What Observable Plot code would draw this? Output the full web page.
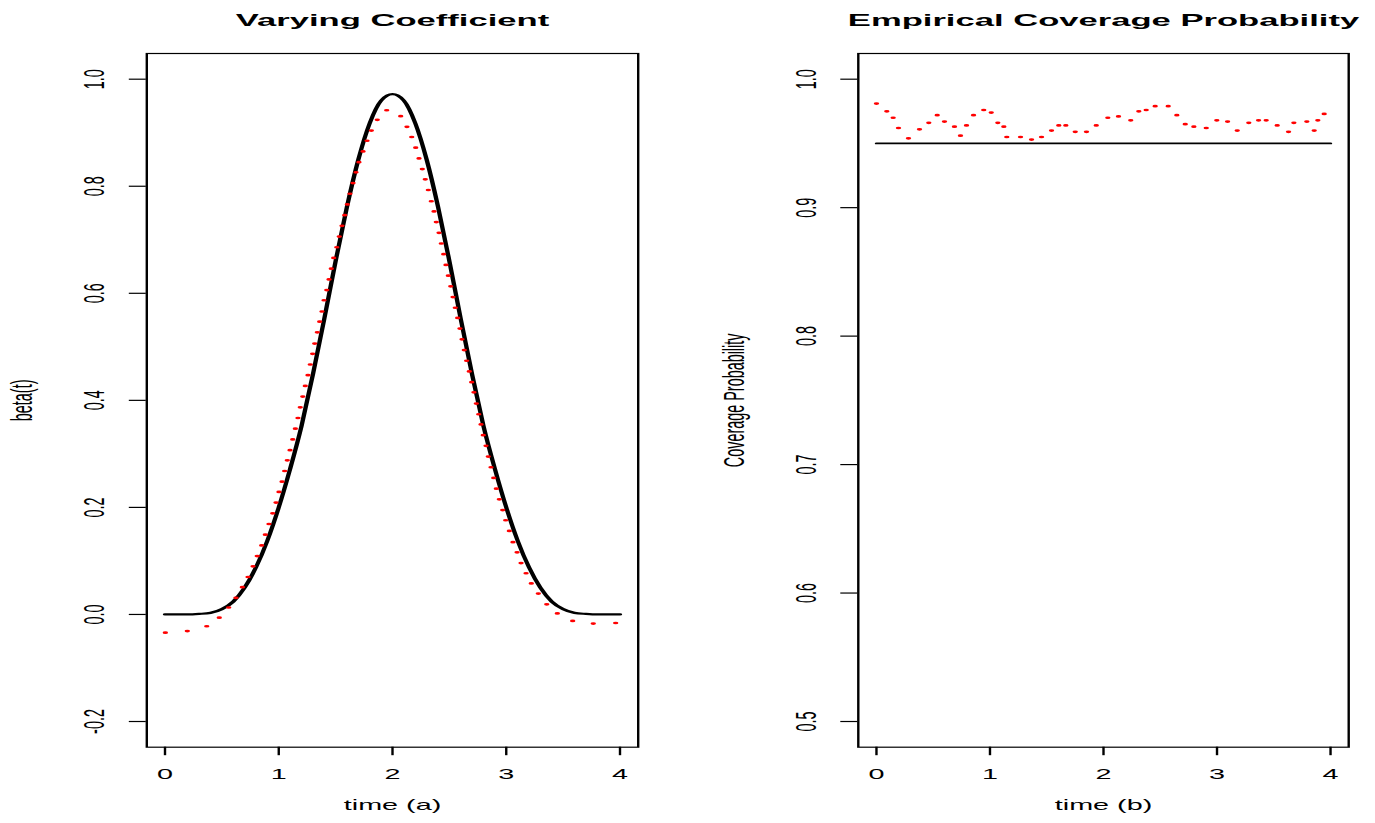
<!DOCTYPE html>
<html>
<head>
<meta charset="utf-8">
<script src="https://cdn.jsdelivr.net/npm/d3@7"></script>
<script src="https://cdn.jsdelivr.net/npm/@observablehq/plot@0.6"></script>
<style>
html, body { margin: 0; padding: 0; background: #fff; }
#chart { position: relative; width: 1375px; height: 823px; overflow: hidden; background: #fff; }
#chart svg { position: absolute; top: 0; }
</style>
</head>
<body>
<div id="chart"></div>
<script>
// ---------- data ----------
const timeTicks = [0, 1, 2, 3, 4];
const betaTicks = [-0.2, 0, 0.2, 0.4, 0.6, 0.8, 1.0];
const covTicks = [0.5, 0.6, 0.7, 0.8, 0.9, 1.0];

// true varying coefficient (black curve)
const trueT = [0.0,0.1,0.2,0.3,0.4,0.5,0.6,0.7,0.8,0.9,1.0,1.1,1.2,1.3,1.4,1.5,1.6,1.7,1.8,1.9,2.0,
               2.1,2.2,2.3,2.4,2.5,2.6,2.7,2.8,2.9,3.0,3.1,3.2,3.3,3.4,3.5,3.6,3.7,3.8,3.9,4.0];
const trueBeta = [0.000,0.000,0.000,0.001,0.003,0.010,0.024,0.050,0.088,0.138,0.200,0.272,0.352,0.448,0.552,0.660,0.762,0.850,0.918,0.960,0.972,
                  0.960,0.918,0.850,0.762,0.660,0.552,0.448,0.352,0.272,0.200,0.138,0.088,0.050,0.024,0.010,0.003,0.001,0.000,0.000,0.000];

// estimated coefficient (red dotted)
const estT = [0.003,0.196,0.367,0.477,0.560,0.624,0.680,0.730,0.774,0.811,0.850,0.882,0.914,0.947,0.976,1.002,1.029,1.052,1.075,1.099,
              1.123,1.146,1.169,1.189,1.211,1.233,1.257,1.277,1.298,1.316,1.339,1.360,1.380,1.398,1.422,1.442,1.462,1.483,1.510,1.532,
              1.556,1.580,1.603,1.626,1.653,1.679,1.705,1.741,1.776,1.814,1.866,1.949,
              2.072,2.127,2.169,2.204,2.233,2.262,2.288,2.315,2.341,2.365,2.385,2.409,2.429,2.450,2.470,2.491,2.512,2.532,2.552,2.573,
              2.593,2.611,2.631,2.652,2.675,2.696,2.716,2.737,2.758,2.778,2.798,2.822,2.842,2.866,2.890,2.913,2.939,2.969,2.995,3.027,
              3.059,3.095,3.130,3.174,3.220,3.282,3.356,3.449,3.584,3.765,3.962];
const estBeta = [-0.034,-0.031,-0.022,-0.006,0.013,0.031,0.051,0.070,0.090,0.109,0.129,0.149,0.169,0.189,0.209,0.229,0.248,0.268,0.288,0.307,
                 0.327,0.347,0.367,0.387,0.407,0.427,0.447,0.467,0.487,0.506,0.527,0.547,0.566,0.587,0.606,0.626,0.646,0.666,0.686,0.706,
                 0.726,0.746,0.766,0.786,0.806,0.826,0.845,0.865,0.885,0.904,0.924,0.942,
                 0.931,0.911,0.892,0.872,0.852,0.832,0.813,0.793,0.772,0.753,0.733,0.713,0.693,0.673,0.653,0.633,0.613,0.593,0.573,0.554,
                 0.534,0.514,0.494,0.474,0.454,0.434,0.415,0.394,0.374,0.355,0.335,0.315,0.295,0.275,0.255,0.235,0.215,0.195,0.176,0.156,
                 0.135,0.116,0.096,0.077,0.058,0.039,0.019,0.002,-0.012,-0.017,-0.016];

// empirical coverage probability (red dotted)
const covT = [0.000,0.091,0.147,0.194,0.282,0.379,0.461,0.535,0.599,0.687,0.740,0.793,0.855,0.945,1.011,1.069,1.122,1.148,1.269,1.366,
              1.454,1.542,1.606,1.668,1.751,1.850,1.936,2.038,2.132,2.240,2.311,2.376,2.455,2.570,2.646,2.720,2.796,2.905,2.998,3.093,
              3.178,3.280,3.366,3.433,3.530,3.630,3.677,3.791,3.856,3.888,3.944];
const covProb = [0.981,0.975,0.970,0.962,0.954,0.961,0.966,0.972,0.967,0.963,0.956,0.964,0.972,0.976,0.974,0.966,0.963,0.955,0.955,0.953,
                 0.955,0.960,0.964,0.964,0.959,0.959,0.964,0.970,0.971,0.968,0.975,0.976,0.979,0.979,0.972,0.965,0.963,0.962,0.968,0.967,
                 0.960,0.966,0.968,0.968,0.964,0.959,0.966,0.967,0.960,0.968,0.973];

// nominal level (black horizontal line)
const nominalT = [0, 4];
const nominalLevel = [0.95, 0.95];

// ---------- layout ----------
const S = 2;            // horizontal stretch of the original picture
const H = 823;
const MT = 53, MB = 76.3;
const FONT = "'Liberation Sans', Arial, Helvetica, sans-serif";
const chart = document.getElementById("chart");

function panel({left, pxWidth, frameL, frameR, yDomain, yTicks, title, xlab, ylab, marks}) {
  const w = pxWidth / S;
  const svg = Plot.plot({
    width: w,
    height: H,
    marginLeft: (frameL - left) / S,
    marginRight: (left + pxWidth - frameR) / S,
    marginTop: MT,
    marginBottom: MB,
    x: {domain: [-0.16, 4.16], axis: null},
    y: {domain: yDomain, axis: null},
    style: {fontFamily: FONT, fontSize: "14.4px", color: "#000", background: "transparent", overflow: "visible"},
    marks: [
      ...marks,
      Plot.frame({stroke: "#000", strokeWidth: 1.2}),
      Plot.axisX({ticks: timeTicks, tickSize: 8.5, tickFormat: () => "", label: null, strokeWidth: 1.2, stroke: "#000"}),
      Plot.axisY({ticks: yTicks, tickSize: 8.5, tickFormat: () => "", label: null, strokeWidth: 1.2, stroke: "#000", anchor: "left"}),
      Plot.text(timeTicks, {x: d => d, frameAnchor: "bottom", dy: 21.5, lineAnchor: "top", text: d => String(d), fontSize: 14.4, fill: "#000"}),
      Plot.text(yTicks, {y: d => d, frameAnchor: "left", dx: -26, rotate: -90, textAnchor: "middle", lineAnchor: "middle",
                         text: d => d.toFixed(1), fontSize: 14.4, fill: "#000"}),
      Plot.text([xlab], {frameAnchor: "bottom", dy: 58, lineAnchor: "middle", text: d => d, fontSize: 14.4, fill: "#000"}),
      Plot.text([ylab], {frameAnchor: "left", dx: -62, rotate: -90, textAnchor: "middle", lineAnchor: "middle", text: d => d, fontSize: 14.4, fill: "#000"}),
      Plot.text([title], {frameAnchor: "top", dy: -27.5, lineAnchor: "bottom", text: d => d, fontSize: 17.3, fontWeight: "bold", fill: "#000"})
    ]
  });
  svg.setAttribute("viewBox", `0 0 ${w} ${H}`);
  svg.setAttribute("width", pxWidth);
  svg.setAttribute("height", H);
  svg.setAttribute("preserveAspectRatio", "none");
  svg.style.width = pxWidth + "px";
  svg.style.height = H + "px";
  svg.style.maxWidth = "none";
  svg.style.left = left + "px";
  chart.appendChild(svg);
}

panel({
  left: 0, pxWidth: 687.5, frameL: 145.8, frameR: 637.2,
  yDomain: [-0.248, 1.048], yTicks: betaTicks,
  title: "Varying Coefficient", xlab: "time (a)", ylab: "beta(t)",
  marks: [
    Plot.line(trueT, {x: trueT, y: trueBeta, stroke: "#000", strokeWidth: 2.2, curve: "monotone-x"}),
    Plot.dot(estT, {x: estT, y: estBeta, r: 1.35, fill: "#ff0000", stroke: null})
  ]
});

panel({
  left: 687.5, pxWidth: 687.5, frameL: 856.8, frameR: 1347.2,
  yDomain: [0.48, 1.02], yTicks: covTicks,
  title: "Empirical Coverage Probability", xlab: "time (b)", ylab: "Coverage Probability",
  marks: [
    Plot.line(nominalT, {x: nominalT, y: nominalLevel, stroke: "#000", strokeWidth: 1.7}),
    Plot.dot(covT, {x: covT, y: covProb, r: 1.35, fill: "#ff0000", stroke: null})
  ]
});
</script>
</body>
</html>
